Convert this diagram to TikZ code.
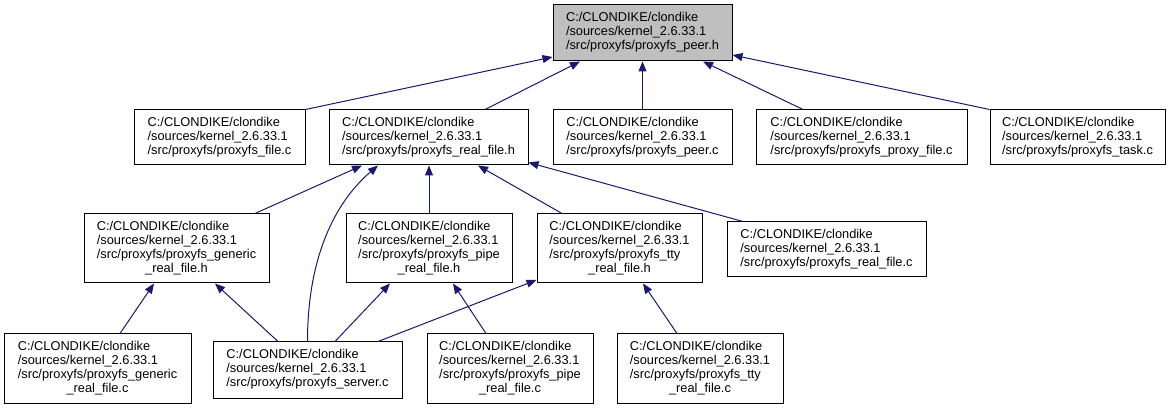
\documentclass[tikz,border=0pt]{standalone}
\usepackage{fontspec}
\setmainfont{Liberation Sans}
\usetikzlibrary{arrows.meta}
\definecolor{edgecol}{HTML}{191970}
\definecolor{rootfill}{HTML}{BFBFBF}
\newcommand{\flines}[1]{\begin{tabular}{@{}l@{}}#1\end{tabular}}
\newcommand{\clast}[1]{\multicolumn{1}{@{}c@{}}{#1}}
\tikzset{
  filebox/.style={draw=black, line width=1pt, fill=white, inner sep=0pt,
    font=\fontsize{12.8}{14}\selectfont},
  rootbox/.style={filebox, fill=rootfill},
  dep/.style={draw=edgecol, line width=1pt, -{Triangle[length=10pt,width=8pt]}}
}
\begin{document}
\begin{tikzpicture}[x=1pt,y=-1pt]
\useasboundingbox (0,0) rectangle (1175,411);
\renewcommand{\arraystretch}{1}
% row 1
\node[rootbox, minimum width=179pt, minimum height=56pt] (peerh) at (642.5,33)
  {\flines{C:/CLONDIKE/clondike\\/sources/kernel\_2.6.33.1\\/src/proxyfs/proxyfs\_peer.h}};
% row 2
\node[filebox, minimum width=171pt, minimum height=55pt] (filec) at (219.5,137.5)
  {\flines{C:/CLONDIKE/clondike\\/sources/kernel\_2.6.33.1\\/src/proxyfs/proxyfs\_file.c}};
\node[filebox, minimum width=199pt, minimum height=55pt] (realh) at (428.5,137.5)
  {\flines{C:/CLONDIKE/clondike\\/sources/kernel\_2.6.33.1\\/src/proxyfs/proxyfs\_real\_file.h}};
\node[filebox, minimum width=179pt, minimum height=55pt] (peerc) at (642.5,137.5)
  {\flines{C:/CLONDIKE/clondike\\/sources/kernel\_2.6.33.1\\/src/proxyfs/proxyfs\_peer.c}};
\node[filebox, minimum width=211pt, minimum height=55pt] (proxyc) at (861.5,137.5)
  {\flines{C:/CLONDIKE/clondike\\/sources/kernel\_2.6.33.1\\/src/proxyfs/proxyfs\_proxy\_file.c}};
\node[filebox, minimum width=175pt, minimum height=55pt] (taskc) at (1077.5,137.5)
  {\flines{C:/CLONDIKE/clondike\\/sources/kernel\_2.6.33.1\\/src/proxyfs/proxyfs\_task.c}};
% row 3
\node[filebox, minimum width=185pt, minimum height=69pt] (genh) at (176.5,248.5)
  {\flines{C:/CLONDIKE/clondike\\/sources/kernel\_2.6.33.1\\/src/proxyfs/proxyfs\_generic\\\clast{\_real\_file.h}}};
\node[filebox, minimum width=166pt, minimum height=69pt] (pipeh) at (429,248.5)
  {\flines{C:/CLONDIKE/clondike\\/sources/kernel\_2.6.33.1\\/src/proxyfs/proxyfs\_pipe\\\clast{\_real\_file.h}}};
\node[filebox, minimum width=165pt, minimum height=69pt] (ttyh) at (619.5,248.5)
  {\flines{C:/CLONDIKE/clondike\\/sources/kernel\_2.6.33.1\\/src/proxyfs/proxyfs\_tty\\\clast{\_real\_file.h}}};
\node[filebox, minimum width=199pt, minimum height=55pt] (realc) at (826.5,249.5)
  {\flines{C:/CLONDIKE/clondike\\/sources/kernel\_2.6.33.1\\/src/proxyfs/proxyfs\_real\_file.c}};
% row 4
\node[filebox, minimum width=187pt, minimum height=69pt] (genc) at (97.5,368.5)
  {\flines{C:/CLONDIKE/clondike\\/sources/kernel\_2.6.33.1\\/src/proxyfs/proxyfs\_generic\\\clast{\_real\_file.c}}};
\node[filebox, minimum width=189pt, minimum height=56pt] (server) at (307.5,370)
  {\flines{C:/CLONDIKE/clondike\\/sources/kernel\_2.6.33.1\\/src/proxyfs/proxyfs\_server.c}};
\node[filebox, minimum width=166pt, minimum height=69pt] (pipec) at (510,368.5)
  {\flines{C:/CLONDIKE/clondike\\/sources/kernel\_2.6.33.1\\/src/proxyfs/proxyfs\_pipe\\\clast{\_real\_file.c}}};
\node[filebox, minimum width=166pt, minimum height=69pt] (ttyc) at (700,368.5)
  {\flines{C:/CLONDIKE/clondike\\/sources/kernel\_2.6.33.1\\/src/proxyfs/proxyfs\_tty\\\clast{\_real\_file.c}}};
% edges to peer.h
\draw[dep] (filec.north east) -- ([yshift=-24pt]peerh.west);
\draw[dep] ([xshift=56.5pt]realh.north) -- ([xshift=-62.5pt]peerh.south);
\draw[dep] (peerc.north) -- (peerh.south);
\draw[dep] ([xshift=-58.5pt]proxyc.north) -- ([xshift=60.5pt]peerh.south);
\draw[dep] (taskc.north west) -- ([yshift=-22pt]peerh.east);
% edges to real_file.h
\draw[dep] ([xshift=78.5pt]genh.north) -- ([xshift=-66.5pt]realh.south);
\draw[dep] (server.north) .. controls ([yshift=82pt]server.north) and ([xshift=-95pt,yshift=-38pt]realh.south) .. ([xshift=-50.5pt]realh.south);
\draw[dep] (pipeh.north) -- (pipeh.north |- realh.south);
\draw[dep] ([xshift=-57.5pt]ttyh.north) -- ([xshift=49.5pt]realh.south);
\draw[dep] ([xshift=-83.5pt]realc.north) -- ([yshift=3pt]realh.south east);
% edges to row 3
\draw[dep] ([xshift=22.5pt]genc.north) -- ([xshift=-22.5pt]genh.south);
\draw[dep] ([xshift=-29.5pt]server.north) -- ([xshift=38.5pt]genh.south);
\draw[dep] ([xshift=27.5pt]server.north) -- ([xshift=-39pt]pipeh.south);
\draw[dep] ([xshift=70.5pt]server.north) -- ([yshift=-31.5pt]ttyh.west);
\draw[dep] ([xshift=-24pt]pipec.north) -- ([xshift=24pt]pipeh.south);
\draw[dep] ([xshift=-23pt]ttyc.north) -- ([xshift=23.5pt]ttyh.south);
\end{tikzpicture}
\end{document}
